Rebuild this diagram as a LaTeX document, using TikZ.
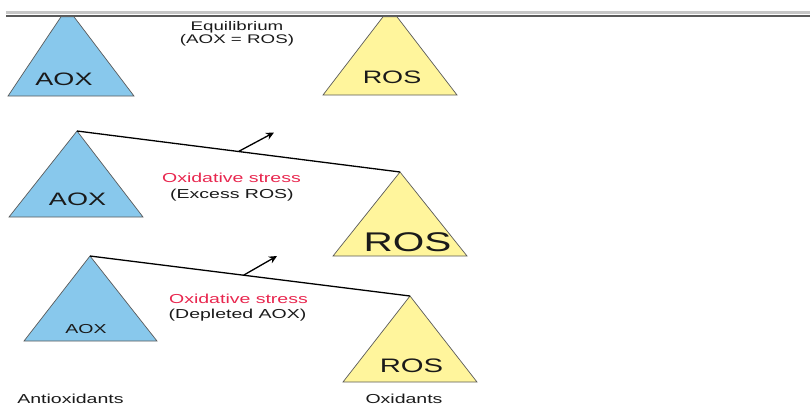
\documentclass[tikz,border=0pt]{standalone}
\usepackage{fontspec}
\setmainfont{Liberation Sans}
\usetikzlibrary{calc,arrows.meta}
\definecolor{aoxblue}{HTML}{88C8EC}
\definecolor{rosyellow}{HTML}{FFF59C}
\definecolor{stressred}{HTML}{E8264E}
\definecolor{txt}{HTML}{1A1A1A}
\definecolor{edge}{HTML}{5A5A5A}
\newcommand{\hstr}[1]{\scalebox{1.5}[1]{#1}}
\tikzset{
  tri/.style={draw=edge, line width=0.7pt, line join=miter},
  aox/.style={tri, fill=aoxblue},
  ros/.style={tri, fill=rosyellow},
  beam/.style={line width=1.3pt, black},
  arr/.style={line width=1.3pt, black, -{Stealth[length=8pt,width=7.5pt]}},
  lab/.style={anchor=base, inner sep=0pt, text=txt},
}
\begin{document}
\begin{tikzpicture}[x=1pt,y=-1pt]
\useasboundingbox (0,0) rectangle (810,405);
% top bar
\draw[line width=2.5pt, gray!45] (6,12.6) -- (810,12.6);
\draw[line width=1.5pt, edge] (6,16) -- (810,16);
% top row (equilibrium)
\draw[aox] (8,96) -- (61,16.8) -- (74,16.8) -- (134,96) -- cycle;
\draw[ros] (323,95) -- (383,16.8) -- (397,16.8) -- (457,95) -- cycle;
\node[lab, font=\fontsize{18}{20}\selectfont] (aox1) at (64,85) {\hstr{AOX}};
\node[lab, font=\fontsize{18}{20}\selectfont] (ros1) at (392,83) {\hstr{ROS}};
\node[lab, font=\fontsize{12.5}{14}\selectfont] (eq1) at (237,30.7) {\hstr{Equilibrium}};
\node[lab, font=\fontsize{12.5}{14}\selectfont] (eq2) at (237,43) {\hstr{(AOX = ROS)}};
% middle row (excess ROS)
\coordinate (a2) at (77,131);
\coordinate (r2) at (400,172);
\draw[aox] (a2) -- (143,217) -- (9,217) -- cycle;
\draw[ros] (r2) -- (467,256) -- (333,256) -- cycle;
\draw[beam] (a2) -- (r2);
\coordinate (m2) at ($(a2)!0.5!(r2)$);
\coordinate (t2) at (274,132.5);
\draw[arr] (m2) -- (t2);
\node[lab, font=\fontsize{18}{20}\selectfont] (aox2) at (77.5,205) {\hstr{AOX}};
\node[lab, font=\fontsize{27}{30}\selectfont] (ros2) at (407.5,251) {\hstr{ROS}};
\node[lab, font=\fontsize{13}{15}\selectfont, text=stressred] (os2) at (231.5,182) {\hstr{Oxidative stress}};
\node[lab, font=\fontsize{13}{15}\selectfont] (ex2) at (232,198) {\hstr{(Excess ROS)}};
% bottom row (depleted AOX)
\coordinate (a3) at (90,256);
\coordinate (r3) at (410,296);
\draw[aox] (a3) -- (157,341) -- (24,341) -- cycle;
\draw[ros] (r3) -- (477,382) -- (343,382) -- cycle;
\draw[beam] (a3) -- (r3);
\coordinate (m3) at ($(a3)!0.48!(r3)$);
\coordinate (t3) at (277,256);
\draw[arr] (m3) -- (t3);
\node[lab, font=\fontsize{13}{15}\selectfont] (aox3) at (86,333) {\hstr{AOX}};
\node[lab, font=\fontsize{19.5}{22}\selectfont] (ros3) at (411.5,372) {\hstr{ROS}};
\node[lab, font=\fontsize{13}{15}\selectfont, text=stressred] (os3) at (238.5,303) {\hstr{Oxidative stress}};
\node[lab, font=\fontsize{13}{15}\selectfont] (dp3) at (237.5,318) {\hstr{(Depleted AOX)}};
% bottom captions
\node[lab, font=\fontsize{13}{15}\selectfont] (anti) at (70.5,403) {\hstr{Antioxidants}};
\node[lab, font=\fontsize{13}{15}\selectfont] (oxi) at (404,403.5) {\hstr{Oxidants}};
\end{tikzpicture}
\end{document}
